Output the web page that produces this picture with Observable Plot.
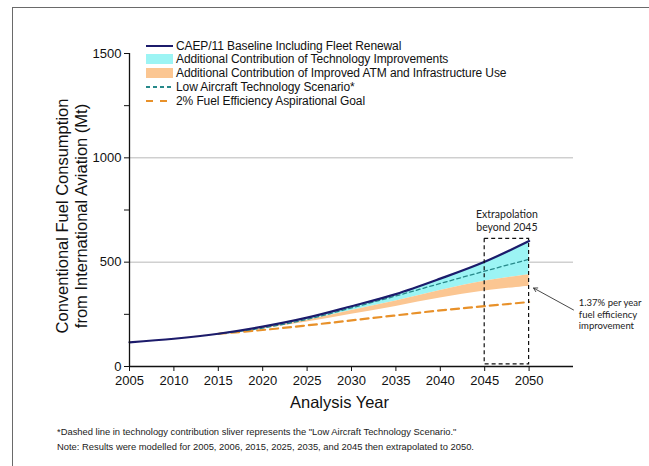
<!DOCTYPE html>
<html>
<head>
<meta charset="utf-8">
<script src="https://cdn.jsdelivr.net/npm/d3@7"></script>
<script src="https://cdn.jsdelivr.net/npm/@observablehq/plot@0.6"></script>
<style>
  html, body { margin: 0; padding: 0; background: #fff; }
  #wrap { position: relative; width: 649px; height: 466px; overflow: hidden; background: #fff; font-family: "Liberation Sans", Arial, sans-serif; }
  #frameL { position: absolute; left: 12px; top: 7px; width: 0; height: 470px; border-left: 1.5px solid #6a6a6a; }
  #frameT { position: absolute; left: 12px; top: 7px; width: 650px; height: 0; border-top: 1.5px solid #6a6a6a; }
  #chart { position: absolute; left: 0; top: 0; }
  .lg-row { position: absolute; left: 146px; height: 14px; width: 420px; }
  .lg-sym { position: absolute; left: 0; width: 27px; }
  .lg-txt { position: absolute; left: 30px; top: 0; font-size: 12px; line-height: 14px; color: #111; white-space: nowrap; letter-spacing: -0.1px; }
  .note { position: absolute; left: 57px; font-size: 9.4px; color: #222; white-space: nowrap; line-height: 11px; }
</style>
</head>
<body>
<div id="wrap">
  <div id="chart"></div>
  <div id="frameL"></div>
  <div id="frameT"></div>
  <div id="legend"></div>
  <div class="note" style="top:426px">*Dashed line in technology contribution sliver represents the "Low Aircraft Technology Scenario."</div>
  <div class="note" style="top:441px">Note: Results were modelled for 2005, 2006, 2015, 2025, 2035, and 2045 then extrapolated to 2050.</div>
</div>
<script>
// ---- data ----
const years      = [2005, 2010, 2015, 2020, 2025, 2030, 2035, 2040, 2045, 2050];
const baseline   = [116, 133, 157, 191, 234, 289, 347, 421, 502, 601];   // CAEP/11 baseline incl. fleet renewal
const techFloor  = [116, 133, 157, 186, 222, 268, 314, 364, 408, 440];   // after technology improvements
const atmFloor   = [116, 133, 157, 181, 213, 250, 288, 328, 362, 385];   // after improved ATM & infrastructure
const lowTechYears = [2015, 2020, 2025, 2030, 2035, 2040, 2045, 2050];
const lowTech      = [157, 184, 226, 281, 338, 398, 457, 514];           // Low Aircraft Technology Scenario
const goalYears  = [2015, 2020, 2025, 2030, 2035, 2040, 2045, 2050];
const goal       = [157, 175, 197, 221, 245, 269, 289, 309];             // 2% fuel efficiency aspirational goal
const xTicks     = [2005, 2010, 2015, 2020, 2025, 2030, 2035, 2040, 2045, 2050];
const yTicks     = [0, 500, 1000, 1500];
const yMinorTicks = [250, 750, 1250];
const gridValues = [500, 1000];
const extrapYears = [2045, 2050];
const extrapRange = [10, 612];
const legendLabels = [
  "CAEP/11 Baseline Including Fleet Renewal",
  "Additional Contribution of Technology Improvements",
  "Additional Contribution of Improved ATM and Infrastructure Use",
  "Low Aircraft Technology Scenario*",
  "2% Fuel Efficiency Aspirational Goal"
];

const C = {
  navy: "#1c1b6b", cyan: "#9cf4f4", orangeFill: "#fbc692",
  teal: "#27898a", orange: "#e8912a"
};

const rows = years.map((year, i) => ({year, base: baseline[i], tech: techFloor[i], atm: atmFloor[i]}));
const lowRows = lowTechYears.map((year, i) => ({year, v: lowTech[i]}));
const goalRows = goalYears.map((year, i) => ({year, v: goal[i]}));
const box = [{x1: extrapYears[0], x2: extrapYears[1], y1: extrapRange[0], y2: extrapRange[1]}];
const curve = "catmull-rom";

const chart = Plot.plot({
  width: 649, height: 420,
  marginLeft: 129, marginRight: 76, marginTop: 53, marginBottom: 54,
  x: {domain: [2005, 2055]},
  y: {domain: [0, 1500]},
  style: {fontFamily: '"Liberation Sans", Arial, sans-serif', fontSize: "13px", color: "#111", background: "transparent", overflow: "visible"},
  marks: [
    Plot.ruleY(gridValues, {stroke: "#b8b8b8", strokeWidth: 1}),
    Plot.areaY(rows, {x: "year", y1: "tech", y2: "base", fill: C.cyan, curve}),
    Plot.areaY(rows, {x: "year", y1: "atm", y2: "tech", fill: C.orangeFill, curve}),
    Plot.lineY(goalRows, {x: "year", y: "v", stroke: C.orange, strokeWidth: 2.2, strokeDasharray: "8,5", curve}),
    Plot.lineY(lowRows, {x: "year", y: "v", stroke: C.teal, strokeWidth: 1.3, strokeDasharray: "4,3", curve}),
    Plot.lineY(rows, {x: "year", y: "base", stroke: C.navy, strokeWidth: 2.2, curve}),
    Plot.rect(box, {x1: "x1", x2: "x2", y1: "y1", y2: "y2", fill: "none", stroke: "#111", strokeWidth: 1.2, strokeDasharray: "4,3"}),
    Plot.ruleX([2005], {stroke: "#111", strokeWidth: 1.3}),
    Plot.ruleY([0], {stroke: "#111", strokeWidth: 1.3}),
    Plot.axisY({ticks: yTicks, tickSize: 5, tickPadding: 3, tickFormat: d => String(d), label: null, stroke: "#111"}),
    Plot.axisY({ticks: yMinorTicks, tickSize: 5, tickFormat: () => "", label: null, stroke: "#111"}),
    Plot.axisX({ticks: xTicks, tickSize: 5, tickPadding: 4, tickFormat: d => String(d), label: null, stroke: "#111"}),
    Plot.text(["Analysis Year"], {frameAnchor: "bottom", textAnchor: "middle", dx: -12, dy: 41, fontSize: 16.5, fill: "#111"}),
    Plot.text(["Conventional Fuel Consumption\nfrom International Aviation (Mt)"], {frameAnchor: "left", textAnchor: "middle", lineAnchor: "middle", rotate: -90, dx: -58, dy: 6, fontSize: 16.5, lineHeight: 1.15, fill: "#111"}),
    Plot.text(["Extrapolation\nbeyond 2045"], {x: 2047.5, y: 699, fontFamily: "Lato, 'Open Sans', sans-serif", fontSize: 10.5, lineHeight: 1.25, fill: "#222"}),
    Plot.arrow([{x1: 2055, y1: 271, x2: 2050.5, y2: 376}], {x1: "x1", y1: "y1", x2: "x2", y2: "y2", stroke: "#333", strokeWidth: 0.9, headLength: 7}),
    Plot.text(["1.37% per year\nfuel efficiency\nimprovement"], {x: 2055.6, y: 251, textAnchor: "start", fontFamily: "Lato, 'Open Sans', sans-serif", fontSize: 9.5, lineHeight: 1.2, fill: "#222"})
  ]
});
document.getElementById("chart").appendChild(chart);

// ---- legend ----
const legendY = [45.5, 59.4, 73.3, 87.2, 101.1];
const symbols = [
  `<div class="lg-sym" style="top:6px;height:0;border-top:2px solid ${C.navy}"></div>`,
  `<div class="lg-sym" style="top:2px;height:10px;background:${C.cyan}"></div>`,
  `<div class="lg-sym" style="top:2px;height:10px;background:${C.orangeFill}"></div>`,
  `<div class="lg-sym" style="top:6px;height:1.5px;background:repeating-linear-gradient(90deg, ${C.teal} 0 4px, transparent 4px 7px)"></div>`,
  `<div class="lg-sym" style="top:6px;height:2px;background:repeating-linear-gradient(90deg, ${C.orange} 0 7px, transparent 7px 14px)"></div>`
];
const lg = document.getElementById("legend");
legendLabels.forEach((t, i) => {
  const row = document.createElement("div");
  row.className = "lg-row";
  row.style.top = (legendY[i] - 7) + "px";
  row.innerHTML = symbols[i] + `<div class="lg-txt">${t}</div>`;
  lg.appendChild(row);
});
</script>
</body>
</html>
